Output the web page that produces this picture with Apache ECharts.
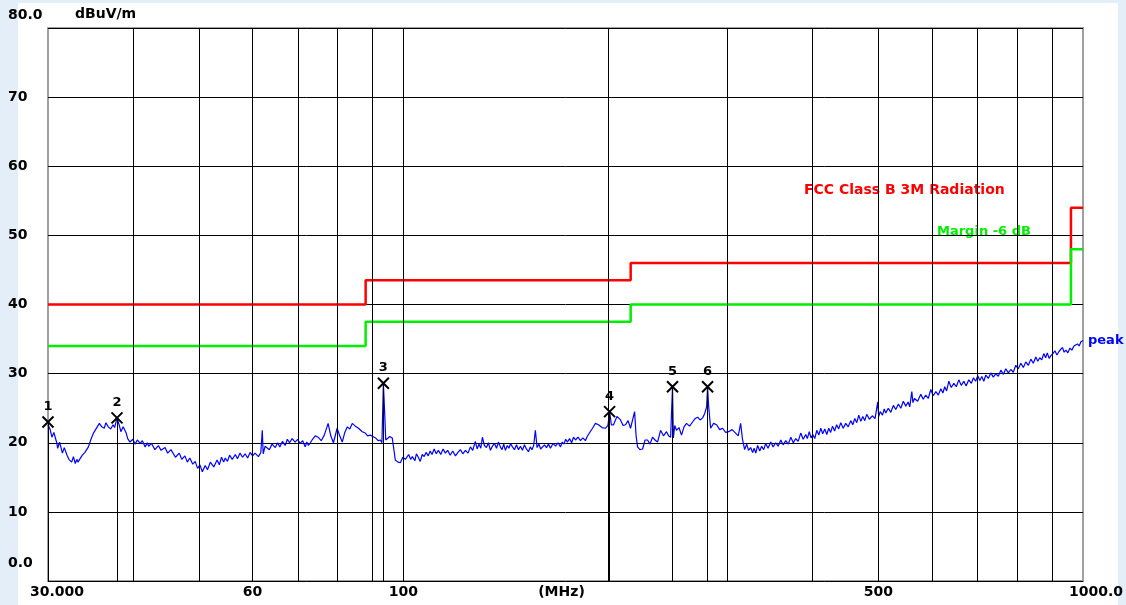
<!DOCTYPE html>
<html>
<head>
<meta charset="utf-8">
<title>Radiated emission 30-1000 MHz</title>
<script src="https://cdn.jsdelivr.net/npm/echarts@6/dist/echarts.min.js"></script>
<style>
html, body { margin: 0; padding: 0; background: #e3eef8; }
#chart { width: 1126px; height: 605px; }
</style>
</head>
<body>
<div id="chart"></div>
<script>
// measured peak trace, [MHz, dBuV/m]
const peakTrace = [
    [30.0, 22.6], [30.2, 22.0], [30.4, 20.8], [30.6, 21.5], [30.9, 20.0], [31.0, 19.2], [31.2, 20.1], [31.5, 18.5], [31.7, 19.3], [32.0, 18.2],
    [32.2, 17.6], [32.5, 17.2], [32.7, 18.0], [32.9, 17.0], [33.1, 17.6], [33.2, 17.2], [33.4, 17.0], [33.7, 18.2], [34.0, 18.6], [34.4, 19.4],
    [34.7, 20.5], [35.0, 21.4], [35.3, 22.0], [35.7, 22.8], [36.0, 22.3], [36.3, 22.1], [36.5, 22.9], [36.8, 22.3], [37.1, 22.0], [37.4, 22.6],
    [37.6, 22.2], [37.9, 23.6], [38.2, 22.5], [38.4, 21.6], [38.7, 22.3], [39.1, 21.4], [39.3, 20.6], [39.6, 20.1],
    [40.0, 20.5], [40.3, 19.8], [40.6, 20.4], [41.0, 19.9], [41.3, 20.3], [41.7, 19.4], [42.0, 20.0], [42.2, 19.5], [42.6, 19.9], [43.1, 19.0],
    [43.6, 19.6], [44.0, 18.9], [44.6, 19.3], [45.0, 18.5], [45.5, 19.0], [46.2, 17.9], [46.8, 18.5], [47.2, 17.6], [47.7, 18.1], [48.1, 17.2],
    [48.5, 17.8], [49.0, 16.9], [49.4, 17.3], [49.8, 16.3], [50.2, 16.8], [50.6, 15.8], [51.1, 16.7], [51.5, 16.1], [52.0, 17.2], [52.6, 16.5],
    [53.2, 17.5], [53.6, 16.8], [54.0, 17.9], [54.4, 17.2], [54.7, 17.8], [55.1, 17.3], [55.5, 18.2], [56.0, 17.6], [56.6, 18.3], [57.0, 17.7],
    [57.5, 18.5], [58.0, 17.9], [58.5, 18.4], [59.0, 17.8], [59.5, 18.6], [60.0, 18.1], [60.5, 18.5], [61.2, 18.0], [61.7, 18.6], [62.0, 21.8],
    [62.2, 18.4], [62.6, 19.5], [63.5, 19.0], [64.1, 19.8], [64.8, 19.3], [65.3, 20.0], [65.8, 19.4], [66.4, 20.2], [67.0, 19.6], [67.5, 20.5],
    [68.0, 20.0], [68.6, 20.6], [69.3, 20.1], [69.9, 20.5], [70.5, 19.9], [71.1, 20.3], [71.7, 19.4], [72.1, 20.1], [72.5, 19.6], [73.4, 20.4],
    [74.2, 21.0], [74.9, 20.8], [75.7, 20.3], [76.5, 21.1], [77.5, 22.8], [78.2, 21.0], [78.9, 20.0], [79.9, 22.1], [80.6, 21.0], [81.3, 20.1],
    [82.0, 21.5], [82.7, 22.3], [83.4, 22.0], [84.1, 22.8], [85.0, 22.4], [85.9, 22.1], [87.0, 21.6], [87.9, 21.4], [88.6, 21.0], [89.4, 21.1],
    [90.2, 20.9], [91.0, 20.7], [91.8, 20.3], [92.5, 20.4], [93.0, 20.0], [93.45, 28.6], [93.8, 25.0], [94.2, 20.4], [94.7, 20.4], [95.5, 20.9],
    [96.3, 20.7], [97.0, 18.5], [97.3, 17.5], [98.2, 17.2], [99.0, 17.1], [99.8, 17.9], [100.7, 17.6], [101.8, 18.3], [102.5, 17.6], [103.1, 18.0],
    [104.0, 17.4], [104.5, 18.4], [105.2, 17.9], [105.9, 17.3], [106.6, 18.3], [107.3, 18.0], [108.0, 18.6], [108.8, 18.1], [109.5, 18.8], [110.2, 18.3],
    [111.0, 19.1], [111.8, 18.4], [112.6, 18.9], [113.5, 18.3], [114.4, 19.1], [115.3, 18.5], [116.2, 18.9], [117.2, 18.2], [118.2, 18.8], [119.3, 18.1],
    [120.3, 18.6], [121.3, 19.0], [122.3, 18.4], [123.4, 18.9], [124.5, 18.5], [125.5, 19.4], [126.5, 18.9], [127.6, 20.2], [128.4, 19.1], [129.2, 19.8],
    [130.0, 19.2], [130.7, 20.8], [131.6, 19.6], [132.5, 19.3], [133.4, 20.0], [134.3, 18.9], [135.2, 19.5], [136.2, 19.9], [137.1, 19.2], [138.0, 20.1],
    [138.9, 19.4], [139.7, 19.0], [140.5, 19.8], [141.3, 18.9], [142.2, 19.6], [143.0, 19.2], [143.8, 19.9], [144.7, 19.4], [145.7, 19.0], [146.7, 19.7],
    [147.7, 19.0], [148.7, 19.5], [149.7, 18.9], [150.7, 19.7], [151.7, 19.1], [152.8, 18.7], [153.7, 19.4], [154.6, 19.0], [155.5, 19.6], [156.4, 21.8],
    [157.3, 19.3], [158.3, 19.8], [159.2, 19.1], [160.2, 18.9], [161.3, 19.7], [162.4, 19.3], [163.5, 19.8], [164.6, 19.2], [166.0, 19.9], [167.5, 19.5],
    [168.9, 20.0], [170.3, 19.4], [171.3, 20.1], [172.3, 19.8], [173.3, 20.5], [174.4, 20.1], [175.6, 20.6], [176.8, 20.0], [178.0, 20.8], [179.2, 20.4],
    [180.7, 20.8], [182.2, 20.3], [183.7, 20.7], [185.3, 20.3], [186.4, 20.9], [187.5, 21.3], [189.8, 22.1], [191.7, 22.8], [193.7, 22.6], [196.0, 22.2],
    [198.4, 22.1], [200.0, 22.5], [201.1, 24.6], [202.3, 22.6], [203.8, 22.6], [206.2, 23.8], [208.7, 23.3], [210.5, 22.5], [212.3, 22.6], [214.1, 23.2],
    [215.9, 22.1], [218.9, 24.5], [220.0, 21.0], [221.1, 19.4], [222.9, 19.0], [224.9, 19.1], [226.8, 20.4], [228.7, 20.4], [230.6, 19.8], [232.6, 20.8],
    [234.6, 20.4], [236.6, 20.1], [239.0, 21.8], [241.4, 21.0], [243.9, 21.6], [245.6, 21.0], [247.3, 20.8], [248.2, 20.6], [248.9, 28.1], [249.6, 20.7],
    [250.8, 22.5], [252.3, 21.8], [254.4, 22.2], [256.6, 21.1], [258.8, 22.3], [261.0, 22.8], [263.7, 22.4], [266.4, 23.0], [268.7, 23.5], [271.0, 23.7],
    [273.3, 23.3], [275.6, 23.6], [277.5, 24.2], [279.4, 25.2], [280.3, 28.1], [281.2, 25.5], [283.2, 22.1], [286.1, 22.8], [289.0, 22.6], [292.0, 21.9],
    [294.9, 22.1], [298.0, 21.5], [301.0, 21.6], [304.6, 21.9], [308.2, 21.4], [311.0, 21.0], [313.5, 22.8], [315.5, 20.5], [317.8, 19.0], [320.0, 19.8],
    [322.0, 18.9], [324.3, 19.3], [326.5, 18.6], [328.2, 19.2], [330.0, 18.5], [332.1, 19.6], [334.5, 18.8], [336.6, 19.5], [339.0, 19.0], [341.3, 19.9],
    [344.0, 19.2], [347.2, 20.1], [350.0, 19.4], [353.1, 20.0], [356.0, 19.5], [359.2, 20.4], [362.0, 19.7], [365.3, 20.3], [368.5, 19.8], [371.6, 20.8],
    [374.7, 20.0], [377.9, 20.6], [381.0, 20.2], [384.3, 21.4], [387.5, 20.5], [390.9, 21.2], [393.0, 20.6], [395.6, 21.6], [398.0, 20.7], [400.3, 21.2],
    [403.0, 20.6], [405.8, 21.8], [408.5, 21.1], [411.3, 22.1], [414.0, 21.3], [416.9, 22.0], [419.8, 21.2], [422.6, 22.1], [425.3, 21.5], [428.0, 22.4],
    [431.0, 21.7], [434.0, 22.6], [437.0, 22.0], [440.1, 22.9], [443.8, 22.1], [447.6, 22.8], [451.4, 22.3], [455.3, 23.2], [458.4, 22.6], [461.5, 23.5],
    [464.6, 22.9], [467.8, 24.0], [471.0, 23.1], [474.2, 23.8], [477.4, 23.2], [480.6, 24.1], [485.0, 23.4], [489.7, 23.9], [494.3, 23.5], [498.9, 25.9],
    [500.5, 23.8], [503.0, 24.5], [507.0, 24.0], [510.0, 24.9], [512.6, 24.3], [517.0, 25.0], [521.4, 24.4], [526.0, 25.4], [530.3, 24.8], [535.0, 25.6],
    [539.4, 25.0], [544.0, 26.0], [548.6, 25.3], [553.0, 25.9], [556.0, 25.2], [559.9, 27.4], [562.0, 25.8], [565.0, 26.4], [571.0, 26.0], [577.2, 27.0],
    [582.0, 26.3], [587.0, 26.9], [592.0, 26.4], [597.1, 27.7], [602.0, 26.8], [607.4, 27.4], [612.5, 26.9], [617.7, 27.8], [622.0, 27.2], [626.0, 28.1],
    [630.0, 27.5], [634.7, 28.9], [640.0, 28.0], [645.6, 28.6], [651.0, 28.1], [656.6, 29.1], [662.0, 28.3], [667.8, 28.9], [673.0, 28.2], [679.2, 29.1],
    [685.0, 28.6], [690.0, 29.4], [695.0, 28.9], [700.2, 29.7], [705.0, 29.0], [709.8, 29.6], [714.5, 28.9], [719.5, 29.8], [725.5, 29.3], [731.8, 30.1],
    [738.0, 29.5], [744.2, 30.0], [750.5, 29.6], [757.0, 30.5], [763.5, 29.9], [769.9, 30.7], [776.5, 30.1], [783.0, 30.6], [789.5, 30.2], [796.4, 31.2],
    [803.0, 30.7], [810.0, 31.5], [817.0, 30.9], [823.8, 31.7], [831.0, 31.2], [838.0, 32.1], [845.0, 31.5], [852.2, 32.4], [858.0, 31.8], [863.8, 32.3],
    [869.5, 32.0], [875.6, 32.9], [881.0, 32.3], [886.0, 33.0], [891.5, 32.2], [897.0, 32.6], [903.0, 32.9], [909.2, 33.3], [915.5, 32.7], [921.7, 33.2],
    [927.0, 33.0], [932.7, 33.8], [938.0, 33.1], [943.8, 33.4], [950.0, 33.0], [956.7, 33.7], [963.0, 33.4], [969.8, 34.0], [975.5, 33.8], [981.0, 34.3],
    [987.0, 34.0], [993.0, 34.6], [1000.0, 34.8]
];

// FCC class B 3 m limit and the -6 dB margin line
const limitFreq = [30, 88, 88, 216, 216, 960, 960, 1000];
const limitLevel = [40, 40, 43.5, 43.5, 46, 46, 54, 54];
const marginLevel = [34, 34, 37.5, 37.5, 40, 40, 48, 48];

// marked peaks
const markerFreq = [30.0, 37.9, 93.45, 201.1, 248.9, 280.3];
const markerLevel = [23.0, 23.6, 28.6, 24.5, 28.1, 28.1];

// log grid and axis labels
const gridFreq = [40, 50, 60, 70, 80, 90, 100, 200, 300, 400, 500, 600, 700, 800, 900];
const freqLabels = [30, 60, 100, 500, 1000];

const font = 'DejaVu Sans';
const chart = echarts.init(document.getElementById('chart'));

const option = {
    backgroundColor: '#e3eef8',
    animation: false,
    graphic: [
        {
            type: 'rect',
            z: -10,
            silent: true,
            shape: { x: 18, y: 3, width: 1100, height: 602 },
            style: { fill: '#ffffff' }
        },
        {
            type: 'text',
            x: 75, y: 14,
            style: { text: 'dBuV/m', fill: '#000', font: 'bold 14px ' + font, verticalAlign: 'middle' }
        },
        {
            type: 'text',
            x: 804, y: 190,
            style: { text: 'FCC Class B 3M Radiation', fill: '#ff0000', font: 'bold 14px ' + font, verticalAlign: 'middle' }
        },
        {
            type: 'text',
            x: 937, y: 232,
            style: { text: 'Margin -6 dB', fill: '#00ee00', font: 'bold 13px ' + font, verticalAlign: 'middle' }
        }
    ],
    grid: {
        left: 48,
        right: 43,
        top: 28,
        bottom: 24,
        outerBoundsMode: 'none',
        containLabel: false,
        show: true,
        backgroundColor: '#ffffff',
        borderColor: '#a0a0a0',
        borderWidth: 2
    },
    xAxis: {
        type: 'log',
        logBase: 10,
        min: 30,
        max: 1000,
        name: '(MHz)',
        nameLocation: 'middle',
        nameGap: 4,
        nameMoveOverlap: false,
        nameTextStyle: {
            color: '#000', fontFamily: font, fontWeight: 'bold', fontSize: 14,
            verticalAlign: 'top', padding: [0, 8, 0, 0]
        },
        axisLine: { show: false },
        axisTick: { show: false },
        splitLine: { show: false },
        minorTick: { show: false },
        axisLabel: {
            customValues: freqLabels,
            margin: 4,
            color: '#000',
            fontFamily: font,
            fontWeight: 'bold',
            fontSize: 14,
            formatter: v => v === 30 ? '{l|30.000}' : v === 1000 ? '{r|1000.0}' : String(v),
            rich: {
                l: { padding: [0, 0, 0, 18], color: '#000', fontFamily: font, fontWeight: 'bold', fontSize: 14 },
                r: { padding: [0, 0, 0, 26], color: '#000', fontFamily: font, fontWeight: 'bold', fontSize: 14 }
            }
        }
    },
    yAxis: {
        type: 'value',
        min: 0,
        max: 80,
        interval: 10,
        axisLine: { show: false },
        axisTick: { show: false },
        splitLine: { lineStyle: { color: '#000', width: 1 } },
        axisLabel: {
            align: 'left',
            margin: 40,
            color: '#000',
            fontFamily: font,
            fontWeight: 'bold',
            fontSize: 14,
            formatter: v => v === 80 ? '{t|80.0}' : v === 0 ? '{b|0.0}' : String(v),
            rich: {
                t: { padding: [0, 0, 26, 0], color: '#000', fontFamily: font, fontWeight: 'bold', fontSize: 14 },
                b: { padding: [0, 0, 36, 0], color: '#000', fontFamily: font, fontWeight: 'bold', fontSize: 14 }
            }
        }
    },
    series: [
        {
            name: 'grid',
            type: 'line',
            data: [],
            z: 1,
            silent: true,
            markLine: {
                silent: true,
                symbol: 'none',
                animation: false,
                label: { show: false },
                lineStyle: { color: '#000', width: 1, type: 'solid' },
                data: gridFreq.map(f => ({ xAxis: f }))
            }
        },
        {
            name: 'FCC Class B 3M Radiation',
            type: 'line',
            z: 3,
            symbol: 'none',
            lineStyle: { color: '#ff0000', width: 2.5 },
            data: limitFreq.map((f, i) => [f, limitLevel[i]])
        },
        {
            name: 'Margin -6 dB',
            type: 'line',
            z: 3,
            symbol: 'none',
            lineStyle: { color: '#00ee00', width: 2.5 },
            data: limitFreq.map((f, i) => [f, marginLevel[i]])
        },
        {
            name: 'peak',
            type: 'line',
            z: 4,
            symbol: 'none',
            lineStyle: { color: '#0000ff', width: 1.2 },
            data: peakTrace,
            endLabel: {
                show: true,
                formatter: 'peak',
                distance: 5,
                color: '#0000ff',
                fontFamily: font,
                fontWeight: 'bold',
                fontSize: 13
            }
        },
        {
            name: 'markers',
            type: 'scatter',
            z: 5,
            symbol: 'path://M0,0L10,10M10,0L0,10',
            symbolSize: 11,
            itemStyle: { color: 'none', borderColor: '#000', borderWidth: 2, opacity: 1 },
            label: {
                show: true,
                position: 'top',
                distance: 1,
                formatter: p => String(p.dataIndex + 1),
                color: '#000',
                fontFamily: font,
                fontWeight: 'bold',
                fontSize: 13
            },
            data: markerFreq.map((f, i) => [f, markerLevel[i]]),
            markLine: {
                silent: true,
                symbol: 'none',
                animation: false,
                label: { show: false },
                lineStyle: { color: '#000', width: 1, type: 'solid' },
                data: markerFreq.map((f, i) => [{ coord: [f, 0] }, { coord: [f, markerLevel[i]] }])
            }
        }
    ]
};

chart.setOption(option);
</script>
</body>
</html>
